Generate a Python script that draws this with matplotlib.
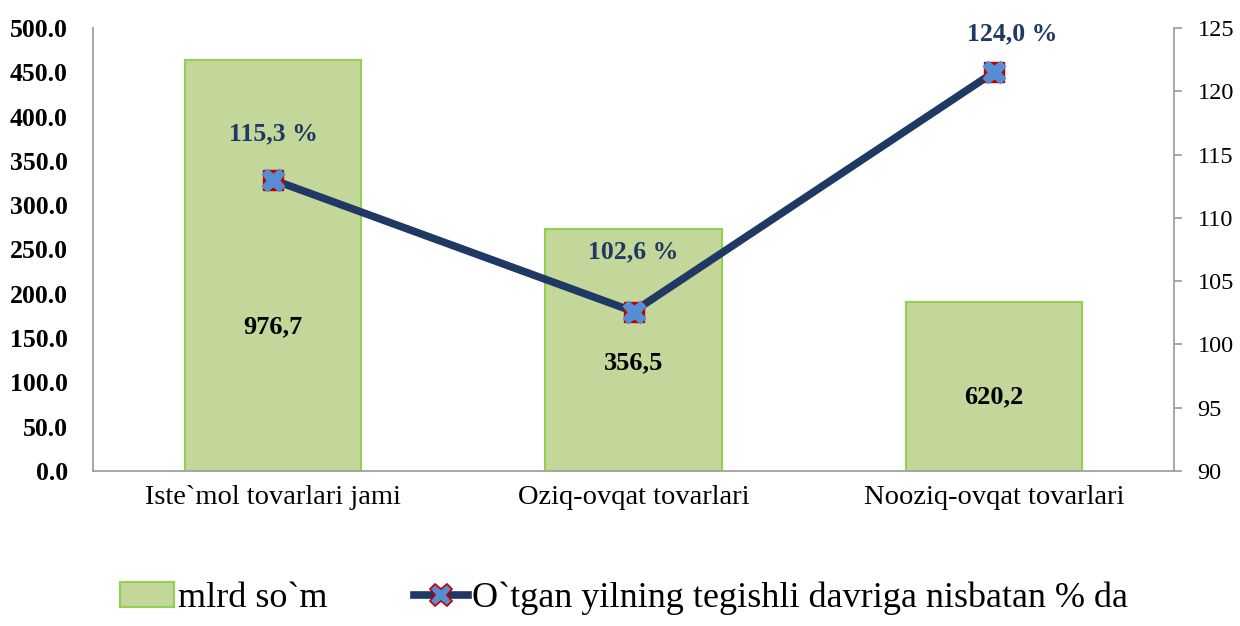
import matplotlib.pyplot as plt
from matplotlib.lines import Line2D
from matplotlib.patches import Patch

plt.rcParams['font.family'] = ['Liberation Serif', 'DejaVu Serif']

# chart data
categories = ["Iste`mol tovarlari jami", "Oziq-ovqat tovarlari", "Nooziq-ovqat tovarlari"]
bar_values = [464.0, 273.0, 191.0]
bar_labels = ["976,7", "356,5", "620,2"]
line_values = [113.0, 102.6, 121.5]
line_labels = ["115,3 %", "102,6 %", "124,0 %"]
left_ticks = [0, 50, 100, 150, 200, 250, 300, 350, 400, 450, 500]
right_ticks = [90, 95, 100, 105, 110, 115, 120, 125]

bar_fill = "#C4D79B"
bar_edge = "#92D050"
line_color = "#1F3864"
label_color = "#1F3864"
spine_gray = "#A0A0A0"

fig = plt.figure(figsize=(12.4, 6.26), dpi=100)
ax = fig.add_axes([0.075, 0.2476, 0.8718, 0.7077])
x = list(range(len(categories)))

ax.bar(x, bar_values, width=0.49, color=bar_fill, edgecolor=bar_edge, linewidth=1.5, zorder=2)
ax.set_xlim(-0.5, 2.5)
ax.set_ylim(0, 500)
ax.set_yticks(left_ticks)
ax.set_yticklabels([f"{t:.1f}" for t in left_ticks], fontsize=18.5, fontweight="bold")
ax.set_xticks(x)
ax.set_xticklabels(categories, fontsize=20.5)
ax.tick_params(axis="y", length=0, pad=18)
ax.tick_params(axis="x", length=0, pad=10)
for s in ["top", "right"]:
    ax.spines[s].set_visible(False)
for s in ["left", "bottom"]:
    ax.spines[s].set_color(spine_gray)
    ax.spines[s].set_linewidth(1.3)

# bar value labels (inside bars)
bar_label_y = [163, 122, 84]
for xi, yv, lab in zip(x, bar_label_y, bar_labels):
    ax.text(xi, yv, lab, ha="center", va="center", fontsize=19, fontweight="bold", color="black", zorder=5)

ax2 = ax.twinx()
ax2.set_ylim(90, 125)
ax2.set_yticks(right_ticks)
ax2.set_yticklabels([str(t) for t in right_ticks], fontsize=17.5)
ax2.tick_params(axis="y", length=6, width=1.3, color=spine_gray, pad=11)
for s in ["top", "left", "bottom"]:
    ax2.spines[s].set_visible(False)
ax2.spines["right"].set_color(spine_gray)
ax2.spines["right"].set_linewidth(1.3)

ax2.plot(x, line_values, color=line_color, linewidth=5.5, zorder=3, solid_capstyle="butt")
ax2.plot(x, line_values, linestyle="none", marker="s", markersize=14,
         markerfacecolor="#C00000", markeredgecolor="#C00000", zorder=4)
ax2.plot(x, line_values, linestyle="none", marker="X", markersize=16,
         markerfacecolor="#558ED5", markeredgecolor="#558ED5", markeredgewidth=1.0, zorder=5)

line_label_pos = [(0.0, 116.6), (1.0, 107.3), (2.05, 124.5)]
for (lx, ly), lab in zip(line_label_pos, line_labels):
    ax2.text(lx, ly, lab, ha="center", va="center", fontsize=18.5, fontweight="bold",
             color=label_color, zorder=6)

handles = [
    Patch(facecolor=bar_fill, edgecolor=bar_edge, linewidth=1.5),
    Line2D([0], [0], color=line_color, linewidth=5.5, marker="X", markersize=16,
           markerfacecolor="#558ED5", markeredgecolor="#C00000", markeredgewidth=1.2),
]
fig.legend(handles, ["mlrd so`m", "O`tgan yilning tegishli davriga nisbatan % da"],
           loc="lower center", bbox_to_anchor=(0.503, -0.035), ncol=2, frameon=False,
           fontsize=26, handlelength=1.5, handletextpad=0.1, columnspacing=2.4)

fig.savefig("out.png", dpi=100)
